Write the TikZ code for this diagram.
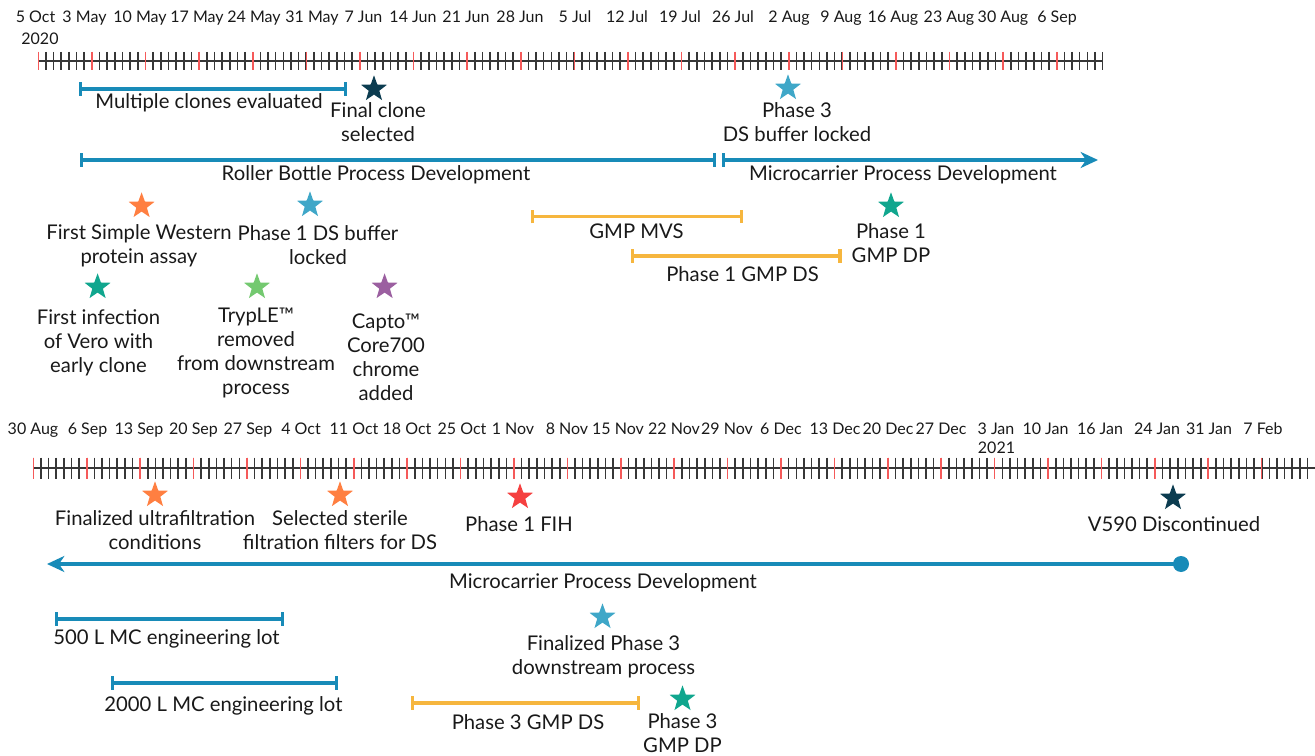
\documentclass[tikz,border=0pt]{standalone}
\usepackage{fontspec}
\setmainfont{Lato}
\usetikzlibrary{arrows.meta,shapes.geometric}

\definecolor{mcblue}{RGB}{24,139,184}
\definecolor{gmpgold}{RGB}{246,182,62}
\definecolor{starorange}{RGB}{255,127,65}
\definecolor{starblue}{RGB}{63,167,200}
\definecolor{starteal}{RGB}{16,166,142}
\definecolor{stargreen}{RGB}{116,201,112}
\definecolor{starpurple}{RGB}{155,95,160}
\definecolor{starnavy}{RGB}{12,60,80}
\definecolor{starred}{RGB}{245,64,64}
\definecolor{tickred}{RGB}{245,90,90}
\definecolor{tickgray}{RGB}{55,55,55}
\definecolor{txt}{RGB}{25,25,25}

\tikzset{every picture/.style={line width=0.75pt}}
\tikzset{
  daytick/.style={draw=tickgray, line width=1.2pt},
  weektick/.style={draw=tickred, line width=1.2pt},
  axisline/.style={draw=tickgray, line width=1.2pt},
  datelbl/.style={font=\fontsize{12}{13}\selectfont, text=txt, anchor=base, inner sep=0pt},
  evtlbl/.style={font=\fontsize{15.2}{18}\selectfont, text=txt, align=center, inner sep=0pt},
  evtstar/.style={star, star points=5, star point ratio=2.45, minimum size=20.5pt, inner sep=0pt, fill=#1},
  bluebar/.style={draw=mcblue, line width=2.6pt, {Bar[width=10pt]}-{Bar[width=10pt]}},
  goldbar/.style={draw=gmpgold, line width=2.6pt, {Bar[width=10pt]}-{Bar[width=10pt]}},
  bluearrow/.style={draw=mcblue, line width=2.6pt, {Bar[width=10pt]}-{Stealth[length=13pt,width=12pt,inset=4pt]}},
}

\begin{document}
\begin{tikzpicture}[x=0.75pt,y=0.75pt,yscale=-1]
	\useasboundingbox (0,0) rectangle (1315,756);

	%%%%% upper timeline: 5 Oct 2020 -- 6 Sep
	\coordinate (ax1-a) at (38.3,61);
	\coordinate (ax1-b) at (1102.6,61);
	\draw [axisline] (ax1-a) -- (ax1-b);
	\foreach \i in {0,...,139} \draw [daytick] ({38.3+\i*7.657},52) -- ++(0,18);
	\foreach \i in {0,...,19} \draw [weektick] ({38.3+\i*53.6},52) -- ++(0,18);
	% Date labels
	\foreach \x/\d [count=\k] in {35.5/5 Oct,84.5/3 May,140/10 May,197/17 May,254/24 May,312/31 May,363.5/7 Jun,413/14 Jun,466/21 Jun,520/28 Jun,575/5 Jul,627/12 Jul,680/19 Jul,733/26 Jul,789/2 Aug,841/9 Aug,893/16 Aug,949/23 Aug,1003/30 Aug,1057/6 Sep}
		\node [datelbl] (d1-\k) at (\x,23) {\d};
	\node [datelbl] (yr-2020) at (40,45) {2020};

	%%%%% upper events
	%Bar: multiple clones
	\coordinate (mce-a) at (79,89);
	\coordinate (mce-b) at (347,89);
	\draw [bluebar] (mce-a) -- (mce-b);
	\node [evtlbl] (evt-mce) at (209,103) {Multiple clones evaluated};
	%Star: final clone
	\node [evtstar=starnavy] (s-fcs) at (374,89) {};
	\node [evtlbl] (evt-fcs) at (378,122.5) {Final clone\\selected};
	%Star: phase 3 buffer
	\node [evtstar=starblue] (s-p3b) at (788,88) {};
	\node [evtlbl] (evt-p3b) at (797,122.5) {Phase 3\\DS buffer locked};
	%Bar: roller bottle
	\coordinate (rb-a) at (80,160);
	\coordinate (rb-b) at (716,160);
	\draw [bluebar] (rb-a) -- (rb-b);
	\node [evtlbl] (lbl-rb) at (376,175) {Roller Bottle Process Development};
	%Arrow: microcarrier
	\coordinate (mc1-a) at (722,160);
	\coordinate (mc1-b) at (1098,160);
	\draw [bluearrow] (mc1-a) -- (mc1-b);
	\node [evtlbl] (lbl-mc1) at (903,175) {Microcarrier Process Development};
	%Star: simple western
	\node [evtstar=starorange] (s-fsw) at (141.6,206) {};
	\node [evtlbl] (evt-fsw) at (139,245.5) {First Simple Western\\protein assay};
	%Star: phase 1 buffer
	\node [evtstar=starblue] (s-p1b) at (310,205) {};
	\node [evtlbl] (evt-p1b) at (318,245.5) {Phase 1 DS buffer\\locked};
	%Star: first infection
	\node [evtstar=starteal] (s-fin) at (97.6,287) {};
	\node [evtlbl] (evt-fin) at (98.5,343) {First infection\\of Vero with\\early clone};
	%Star: TrypLE
	\node [evtstar=stargreen] (s-tryp) at (257,287) {};
	\node [evtlbl] (evt-tryp) at (256,353) {TrypLE™\\removed\\from downstream\\process};
	%Star: Capto
	\node [evtstar=starpurple] (s-capto) at (384.6,287) {};
	\node [evtlbl] (evt-capto) at (386,357.5) {Capto™\\Core700\\chrome\\added};
	%Bar: GMP MVS
	\coordinate (mvs-a) at (530.6,216.7);
	\coordinate (mvs-b) at (743.4,216.7);
	\draw [goldbar] (mvs-a) -- (mvs-b);
	\node [evtlbl] (lbl-mvs) at (636.5,231) {GMP MVS};
	%Bar: phase 1 GMP DS
	\coordinate (p1ds-a) at (631,256);
	\coordinate (p1ds-b) at (841.7,256);
	\draw [goldbar] (p1ds-a) -- (p1ds-b);
	\node [evtlbl] (lbl-p1ds) at (742.5,274) {Phase 1 GMP DS};
	%Star: phase 1 GMP DP
	\node [evtstar=starteal] (s-p1dp) at (891,206) {};
	\node [evtlbl] (evt-p1dp) at (891,243) {Phase 1\\GMP DP};

	%%%%% lower timeline: 30 Aug -- 7 Feb 2021
	\coordinate (ax2-a) at (33.3,468);
	\coordinate (ax2-b) at (1315,468);
	\draw [axisline] (ax2-a) -- (ax2-b);
	\foreach \i in {0,...,167} \draw [daytick] ({33.3+\i*7.63},457.5) -- ++(0,21);
	\foreach \i in {0,...,23} \draw [weektick] ({33.3+\i*53.4},457.5) -- ++(0,21);
	% Date labels
	\foreach \x/\d [count=\k] in {33/30 Aug,87.5/6 Sep,139/13 Sep,193.5/20 Sep,248/27 Sep,301/4 Oct,354/11 Oct,407/18 Oct,462/25 Oct,513/1 Nov,567/8 Nov,618/15 Nov,674/22 Nov,727/29 Nov,781/6 Dec,835/13 Dec,888/20 Dec,941/27 Dec,996/3 Jan,1045.5/10 Jan,1100/16 Jan,1157/24 Jan,1209/31 Jan,1263/7 Feb}
		\node [datelbl] (d2-\k) at (\x,434) {\d};
	\node [datelbl] (yr-2021) at (996.5,453) {2021};

	%%%%% lower events
	%Star: ultrafiltration
	\node [evtstar=starorange] (s-uf) at (155,495) {};
	\node [evtlbl] (evt-uf) at (155,530.5) {Finalized ultrafiltration\\conditions};
	%Star: sterile filters
	\node [evtstar=starorange] (s-sf) at (340,495) {};
	\node [evtlbl] (evt-sf) at (340,530.5) {Selected sterile\\filtration filters for DS};
	%Star: FIH
	\node [evtstar=starred] (s-fih) at (520,497) {};
	\node [evtlbl] (evt-fih) at (519,524) {Phase 1 FIH};
	%Star: discontinued
	\node [evtstar=starnavy] (s-disc) at (1173,498) {};
	\node [evtlbl] (evt-disc) at (1174,524) {V590 Discontinued};
	%Arrow: microcarrier (back)
	\node [circle, fill=mcblue, minimum size=12pt, inner sep=0pt] (mc2-dot) at (1181,564) {};
	\coordinate (mc2-tip) at (47,564);
	\draw [draw=mcblue, line width=2.6pt, -{Stealth[length=13pt,width=12pt,inset=4pt]}] (mc2-dot.center) -- (mc2-tip);
	\node [evtlbl] (lbl-mc2) at (603,583) {Microcarrier Process Development};
	%Bar: 500 L
	\coordinate (l500-a) at (55,619);
	\coordinate (l500-b) at (284,619);
	\draw [bluebar] (l500-a) -- (l500-b);
	\node [evtlbl] (lbl-500) at (166.5,639) {500 L MC engineering lot};
	%Bar: 2000 L
	\coordinate (l2000-a) at (110.5,683);
	\coordinate (l2000-b) at (338,683);
	\draw [bluebar] (l2000-a) -- (l2000-b);
	\node [evtlbl] (lbl-2000) at (223.5,706) {2000 L MC engineering lot};
	%Star: phase 3 downstream
	\node [evtstar=starblue] (s-fp3) at (602.5,617) {};
	\node [evtlbl] (evt-fp3) at (603.5,656.5) {Finalized Phase 3\\downstream process};
	%Bar: phase 3 GMP DS
	\coordinate (p3ds-a) at (411,703);
	\coordinate (p3ds-b) at (640,703);
	\draw [goldbar] (p3ds-a) -- (p3ds-b);
	\node [evtlbl] (lbl-p3ds) at (528,722) {Phase 3 GMP DS};
	%Star: phase 3 GMP DP
	\node [evtstar=starteal] (s-p3dp) at (682.5,699) {};
	\node [evtlbl] (evt-p3dp) at (682.5,733.5) {Phase 3\\GMP DP};

\end{tikzpicture}
\end{document}
